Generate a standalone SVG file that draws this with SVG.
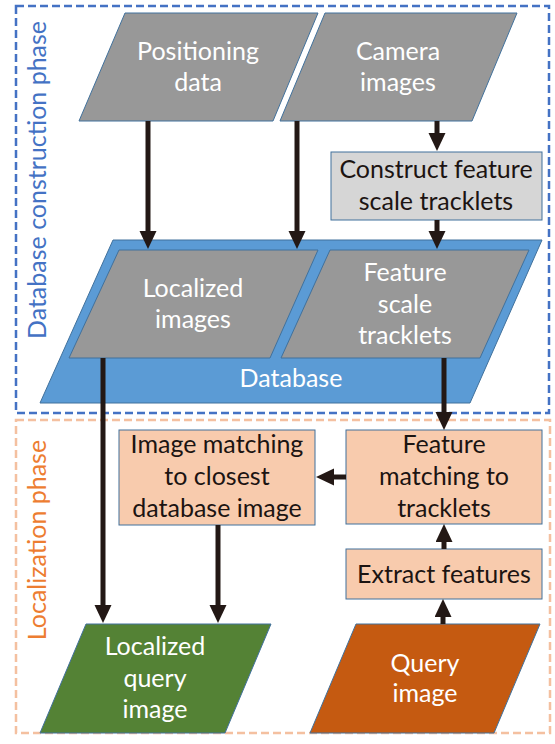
<svg xmlns="http://www.w3.org/2000/svg" width="555" height="744" viewBox="0 0 555 744">
  <style>
    text { font-family: Lato, "Liberation Sans", sans-serif; font-size: 25px; text-anchor: middle; }
    .light { fill: #ffffff; }
    .dark { fill: #1c1412; }
    .io-gray { fill: #989898; stroke: #41719c; stroke-width: 1; }
    .db { fill: #5b9bd5; stroke: #41719c; stroke-width: 1; }
    .proc-gray { fill: #d6d6d6; stroke: #41719c; stroke-width: 1; }
    .proc-orange { fill: #f8cbad; stroke: #41719c; stroke-width: 1; }
    .out-green { fill: #548235; stroke: #41719c; stroke-width: 1; }
    .in-orange { fill: #c55a11; stroke: #41719c; stroke-width: 1; }
    .phase-db { fill: none; stroke: #4472c4; stroke-width: 2.5; stroke-dasharray: 8 4; }
    .phase-loc { fill: none; stroke: #f4c0a0; stroke-width: 2.5; stroke-dasharray: 8 4; }
    .conn { stroke: #231815; stroke-width: 5; fill: none; marker-end: url(#head); }
  </style>
  <defs>
    <marker id="head" markerUnits="userSpaceOnUse" markerWidth="18" markerHeight="18" refX="0" refY="8.5" orient="auto">
      <path d="M0,0 L18,8.5 L0,17 Z" fill="#231815"/>
    </marker>
  </defs>

  <!-- phase frames -->
  <g id="phase-database">
    <rect class="phase-db" x="16" y="6" width="533" height="407"/>
    <text x="0" y="0" transform="translate(46,180) rotate(-90)" style="fill:#4472c4">Database construction phase</text>
  </g>
  <g id="phase-localization">
    <rect class="phase-loc" x="16" y="420" width="534" height="313"/>
    <text x="0" y="0" transform="translate(46,540) rotate(-90)" style="fill:#ed7d31">Localization phase</text>
  </g>

  <!-- inputs -->
  <g id="positioning-data">
    <polygon class="io-gray" points="125,13 318,13 273,121 79,121"/>
    <text class="light" x="198" y="60">Positioning</text>
    <text class="light" x="198" y="91">data</text>
  </g>
  <g id="camera-images">
    <polygon class="io-gray" points="325,13 517,13 472,121 280,121"/>
    <text class="light" x="398" y="60">Camera</text>
    <text class="light" x="398" y="91">images</text>
  </g>
  <g id="construct-tracklets">
    <rect class="proc-gray" x="331" y="152" width="211" height="68"/>
    <text class="dark" x="436" y="178">Construct feature</text>
    <text class="dark" x="436" y="210">scale tracklets</text>
  </g>

  <!-- database -->
  <g id="database">
    <polygon class="db" points="113,240 542,240 470,403 40,403"/>
    <text class="light" x="291" y="387">Database</text>
  </g>
  <g id="localized-images">
    <polygon class="io-gray" points="119,250 318,250 270,358 69,358"/>
    <text class="light" x="193" y="297">Localized</text>
    <text class="light" x="193" y="328">images</text>
  </g>
  <g id="feature-tracklets">
    <polygon class="io-gray" points="330,250 529,250 480,358 281,358"/>
    <text class="light" x="405" y="281">Feature</text>
    <text class="light" x="405" y="313">scale</text>
    <text class="light" x="405" y="344">tracklets</text>
  </g>

  <!-- localization steps -->
  <g id="image-matching">
    <rect class="proc-orange" x="119" y="430" width="196" height="95"/>
    <text class="dark" x="217" y="453">Image matching</text>
    <text class="dark" x="217" y="485">to closest</text>
    <text class="dark" x="217" y="517">database image</text>
  </g>
  <g id="feature-matching">
    <rect class="proc-orange" x="346" y="430" width="196" height="94"/>
    <text class="dark" x="444" y="453">Feature</text>
    <text class="dark" x="444" y="485">matching to</text>
    <text class="dark" x="444" y="517">tracklets</text>
  </g>
  <g id="extract-features">
    <rect class="proc-orange" x="346" y="549" width="196" height="50"/>
    <text class="dark" x="444" y="583">Extract features</text>
  </g>
  <g id="localized-query-image">
    <polygon class="out-green" points="86,624 271,624 225,733 40,733"/>
    <text class="light" x="155" y="655">Localized</text>
    <text class="light" x="155" y="687">query</text>
    <text class="light" x="155" y="718">image</text>
  </g>
  <g id="query-image">
    <polygon class="in-orange" points="356,624 540,624 494,733 310,733"/>
    <text class="light" x="425" y="672">Query</text>
    <text class="light" x="425" y="702">image</text>
  </g>

  <!-- connectors -->
  <g id="connectors">
    <line class="conn" x1="148" y1="121" x2="148" y2="231"/>
    <line class="conn" x1="297" y1="121" x2="297" y2="231"/>
    <line class="conn" x1="437" y1="121" x2="437" y2="133"/>
    <line class="conn" x1="437" y1="220" x2="437" y2="231"/>
    <line class="conn" x1="103" y1="358" x2="103" y2="605"/>
    <line class="conn" x1="444" y1="358" x2="444" y2="412"/>
    <line class="conn" x1="346" y1="477" x2="334" y2="477"/>
    <line class="conn" x1="444" y1="549" x2="444" y2="542"/>
    <line class="conn" x1="443" y1="624" x2="443" y2="617"/>
    <line class="conn" x1="218" y1="525" x2="218" y2="605"/>
  </g>
</svg>
